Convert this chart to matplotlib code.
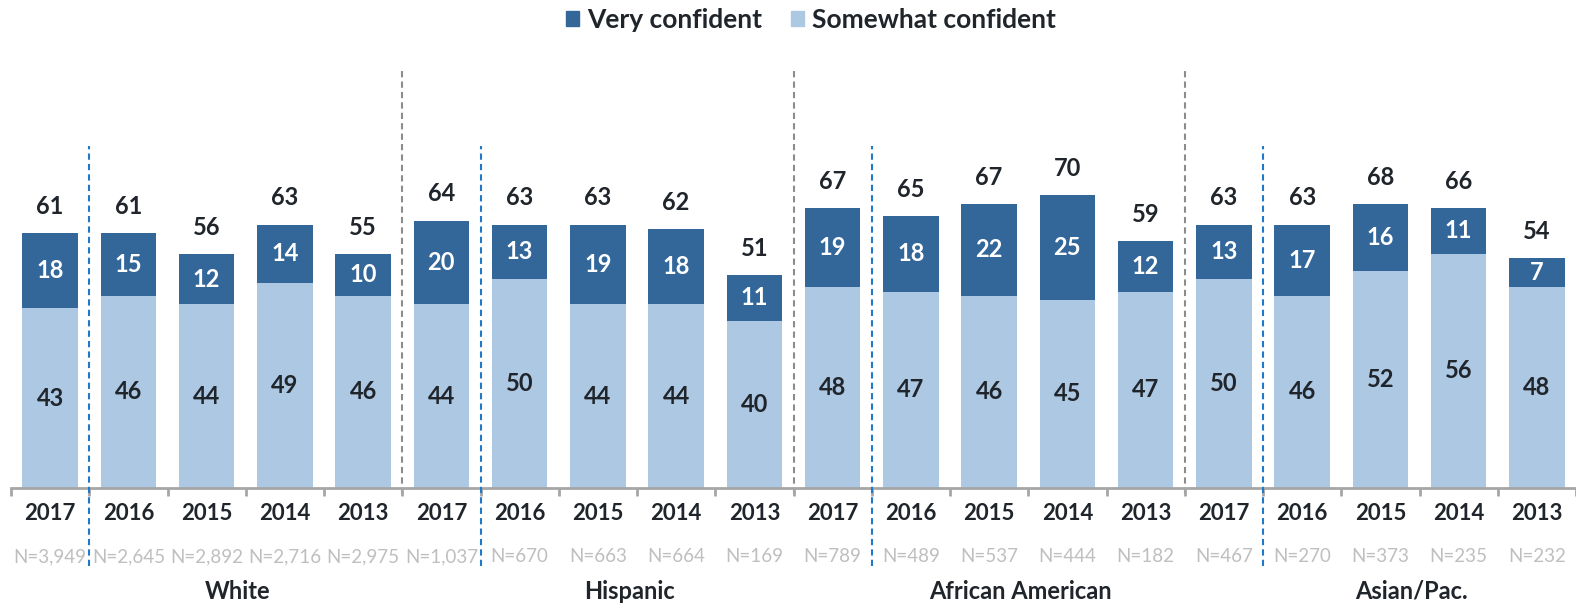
import matplotlib
matplotlib.use("Agg")
import matplotlib.pyplot as plt
from matplotlib.patches import Patch
import numpy as np

plt.rcParams['font.family'] = ['Lato', 'DejaVu Sans']

years = ['2017', '2016', '2015', '2014', '2013'] * 4
groups = ['White', 'Hispanic', 'African American', 'Asian/Pac.']
very = [18, 15, 12, 14, 10, 20, 13, 19, 18, 11, 19, 18, 22, 25, 12, 13, 17, 16, 11, 7]
somewhat = [43, 46, 44, 49, 46, 44, 50, 44, 44, 40, 48, 47, 46, 45, 47, 50, 46, 52, 56, 48]
totals = [61, 61, 56, 63, 55, 64, 63, 63, 62, 51, 67, 65, 67, 70, 59, 63, 63, 68, 66, 54]
n_sizes = ['3,949', '2,645', '2,892', '2,716', '2,975', '1,037', '670', '663', '664', '169',
           '789', '489', '537', '444', '182', '467', '270', '373', '235', '232']

dark = '#336699'
light = '#adc8e3'
txt = '#20252b'

W, H = 1576, 608
fig = plt.figure(figsize=(W / 100, H / 100), dpi=100)
ax = fig.add_axes([11 / W, (H - 488) / H, (W - 11) / W, 420 / H])

x = np.arange(len(years))
ax.bar(x, somewhat, width=0.71, color=light, zorder=2)
ax.bar(x, very, bottom=somewhat, width=0.71, color=dark, zorder=2)

ax.set_xlim(-0.5, 19.41)
ax.set_ylim(0, 100.5)

for i in x:
    ax.text(i, somewhat[i] / 2, str(somewhat[i]), ha='center', va='center',
            fontsize=17, fontweight='bold', color=txt)
    ax.text(i, somewhat[i] + very[i] / 2, str(very[i]), ha='center', va='center',
            fontsize=17, fontweight='bold', color='white')
    ax.text(i, somewhat[i] + very[i] + 6.4, str(totals[i]), ha='center', va='center',
            fontsize=17, fontweight='bold', color=txt)

# axis labels below the bars
tr = ax.get_xaxis_transform()
for i in x:
    ax.text(i, -0.06, years[i], transform=tr, ha='center', va='center',
            fontsize=16, fontweight='bold', color=txt)
    ax.text(i, -0.163, 'N=' + n_sizes[i], transform=tr, ha='center', va='center',
            fontsize=13.5, color='#bfbfbf')
for g, name in enumerate(groups):
    ax.text(g * 5 + 2.4, -0.246, name, transform=tr, ha='center', va='center',
            fontsize=17, fontweight='bold', color=txt)

# separators between groups and between 2017 and earlier years
for g in range(1, 4):
    ax.axvline(g * 5 - 0.5, ymin=-0.015, ymax=1, color='#8c8c8c', lw=1.5,
               ls=(0, (3, 2)), clip_on=False, zorder=1)
for g in range(4):
    ax.axvline(g * 5 + 0.5, ymin=-0.186, ymax=0.814, color='#1f78c8', lw=1.5,
               ls=(0, (3, 2)), clip_on=False, zorder=3)

for s in ['top', 'right', 'left']:
    ax.spines[s].set_visible(False)
ax.spines['bottom'].set_color('#a6a6a6')
ax.spines['bottom'].set_linewidth(2)
ax.set_yticks([])
ax.set_xticks(np.arange(-0.5, 20, 1))
ax.set_xticklabels([])
ax.tick_params(axis='x', length=6, width=2, color='#a6a6a6')

handles = [Patch(color=dark, label='Very confident'),
           Patch(color=light, label='Somewhat confident')]
fig.legend(handles=handles, loc='center', bbox_to_anchor=(811 / W, 1 - 20 / H), ncol=2,
           frameon=False, prop={'weight': 'bold', 'size': 19},
           handlelength=0.5, handleheight=0.5, handletextpad=0.3, columnspacing=1.1,
           labelcolor=txt)

fig.savefig('out.png', dpi=100)
